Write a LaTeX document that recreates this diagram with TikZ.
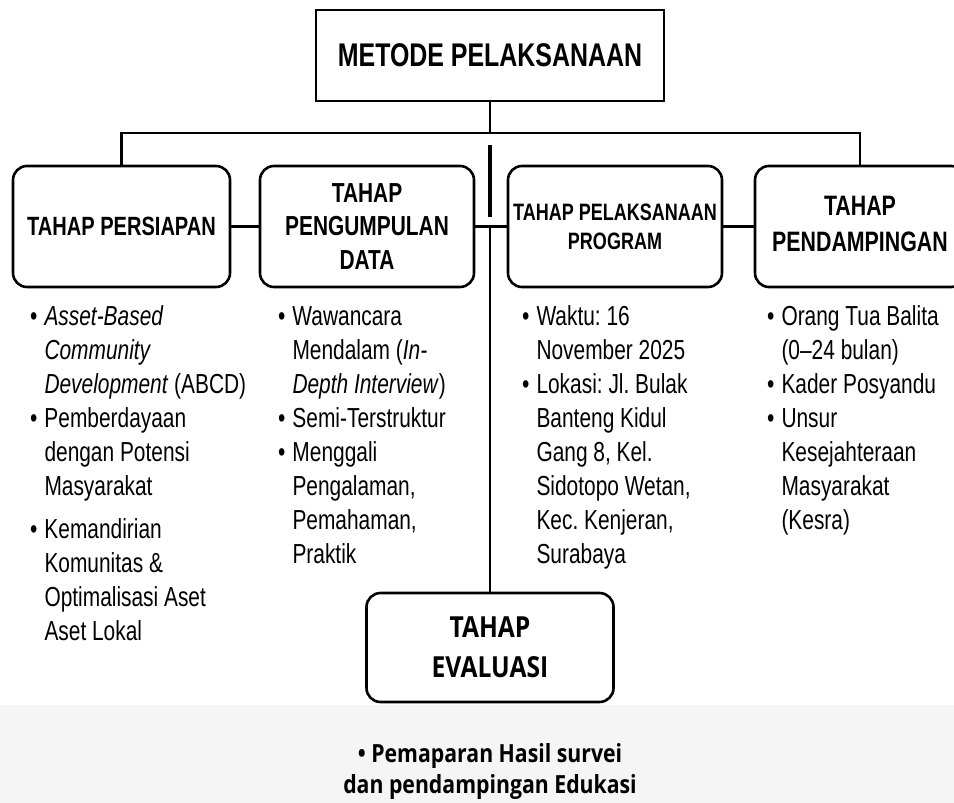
\documentclass[tikz,border=0pt]{standalone}
\usepackage{fontspec}
\setmainfont{Liberation Sans}[FakeStretch=0.76]
\newfontfamily\edufont{Open Sans}[FakeStretch=0.85]
\frenchspacing

\begin{document}
\begin{tikzpicture}[x=1pt, y=-1pt,
        link/.style={line width=2.6pt},
        stage/.style={draw, line width=2.6pt, rounded corners=14pt, inner sep=0pt, align=center, font=\bfseries},
        notes/.style={anchor=base west, inner sep=0pt, font=\fontsize{27.5}{34}\selectfont}]
%        \draw [lightgray, thin, step = 50] (0,0) grid (954, 803);
        \useasboundingbox (0, 0) rectangle (954, 803);
        \fill [gray!8] (0, 705) rectangle (954, 803);

        \node [draw, line width=2.6pt, minimum width=348pt, minimum height=91pt, inner sep=0pt,
               font=\bfseries\fontsize{32.8}{38}\selectfont] (metode) at (490, 55.5) {METODE PELAKSANAAN};
%
        \node [stage, minimum width=217pt, minimum height=121pt, font=\bfseries\fontsize{26.4}{30}\selectfont]
            (persiapan) at (121.5, 226.5) {TAHAP PERSIAPAN};
        \node [stage, minimum width=214pt, minimum height=121pt, font=\bfseries\fontsize{27.5}{33.5}\selectfont]
            (pengumpulan) at (367, 226.5) {TAHAP\\PENGUMPULAN\\DATA};
        \node [stage, minimum width=214pt, minimum height=121pt, font=\bfseries\fontsize{23.7}{29}\selectfont]
            (pelaksanaan) at (615, 226.5) {TAHAP PELAKSANAAN\\PROGRAM};
        \node [stage, minimum width=210pt, minimum height=121pt, font=\bfseries\fontsize{28.1}{35}\selectfont]
            (pendampingan) at (860, 226.5) {\raisebox{6pt}{TAHAP}\\\raisebox{5pt}{PENDAMPINGAN}};
        \node [stage, minimum width=247pt, minimum height=109pt, font=\edufont\bfseries\fontsize{29}{39}\selectfont]
            (evaluasi) at (490, 647.5) {\raisebox{-2pt}{TAHAP}\\\raisebox{-3pt}{EVALUASI}};

        \coordinate (bar) at (490, 133);
        \coordinate (tick top) at (490, 145);
        \coordinate (tick bottom) at (490, 217);
        \coordinate (hub) at (pengumpulan.east -| evaluasi.north);

        \draw [link] (metode.south) -- (bar);
        \draw [link] (bar) -| (persiapan.north);
        \draw [link] (bar) -| (pendampingan.north);
        \foreach \a/\b in {persiapan/pengumpulan, pengumpulan/pelaksanaan, pelaksanaan/pendampingan}
        {
            \draw [link] (\a.east) -- (\b.west);
        }
        \draw [link] (hub) -- (evaluasi.north);
        \draw [line width=3.6pt] (tick top) -- (tick bottom);

%       bullet notes under each stage
        \node [notes] (notes persiapan) at (30, 325)
        {\begin{tabular}[t]{@{}l@{\hspace{7pt}}l@{}}
            \textbullet & \textit{Asset-Based}\\
                        & \textit{Community}\\
                        & \textit{Development} (ABCD)\\
            \textbullet & Pemberdayaan\\
                        & dengan Potensi\\
                        & Masyarakat\\[9pt]
            \textbullet & Kemandirian\\
                        & Komunitas \&\\
                        & Optimalisasi Aset\\
                        & Aset Lokal
        \end{tabular}};
        \node [notes] (notes pengumpulan) at (278, 325)
        {\begin{tabular}[t]{@{}l@{\hspace{7pt}}l@{}}
            \textbullet & Wawancara\\
                        & Mendalam (\textit{In-}\\
                        & \textit{Depth Interview})\\
            \textbullet & Semi-Terstruktur\\
            \textbullet & Menggali\\
                        & Pengalaman,\\
                        & Pemahaman,\\
                        & Praktik
        \end{tabular}};
        \node [notes] (notes pelaksanaan) at (522, 325)
        {\begin{tabular}[t]{@{}l@{\hspace{7pt}}l@{}}
            \textbullet & Waktu: 16\\
                        & November 2025\\
            \textbullet & Lokasi: Jl. Bulak\\
                        & Banteng Kidul\\
                        & Gang 8, Kel.\\
                        & Sidotopo Wetan,\\
                        & Kec. Kenjeran,\\
                        & Surabaya
        \end{tabular}};
        \node [notes] (notes pendampingan) at (767, 325)
        {\begin{tabular}[t]{@{}l@{\hspace{7pt}}l@{}}
            \textbullet & Orang Tua Balita\\
                        & (0--24 bulan)\\
            \textbullet & Kader Posyandu\\
            \textbullet & Unsur\\
                        & Kesejahteraan\\
                        & Masyarakat\\
                        & (Kesra)
        \end{tabular}};
        \node [anchor=base, inner sep=0pt, align=center, font=\edufont\bfseries\fontsize{25}{31}\selectfont]
            (notes evaluasi) at (490, 793) {\textbullet\ Pemaparan Hasil survei\\dan pendampingan Edukasi};
    \end{tikzpicture}
\end{document}
